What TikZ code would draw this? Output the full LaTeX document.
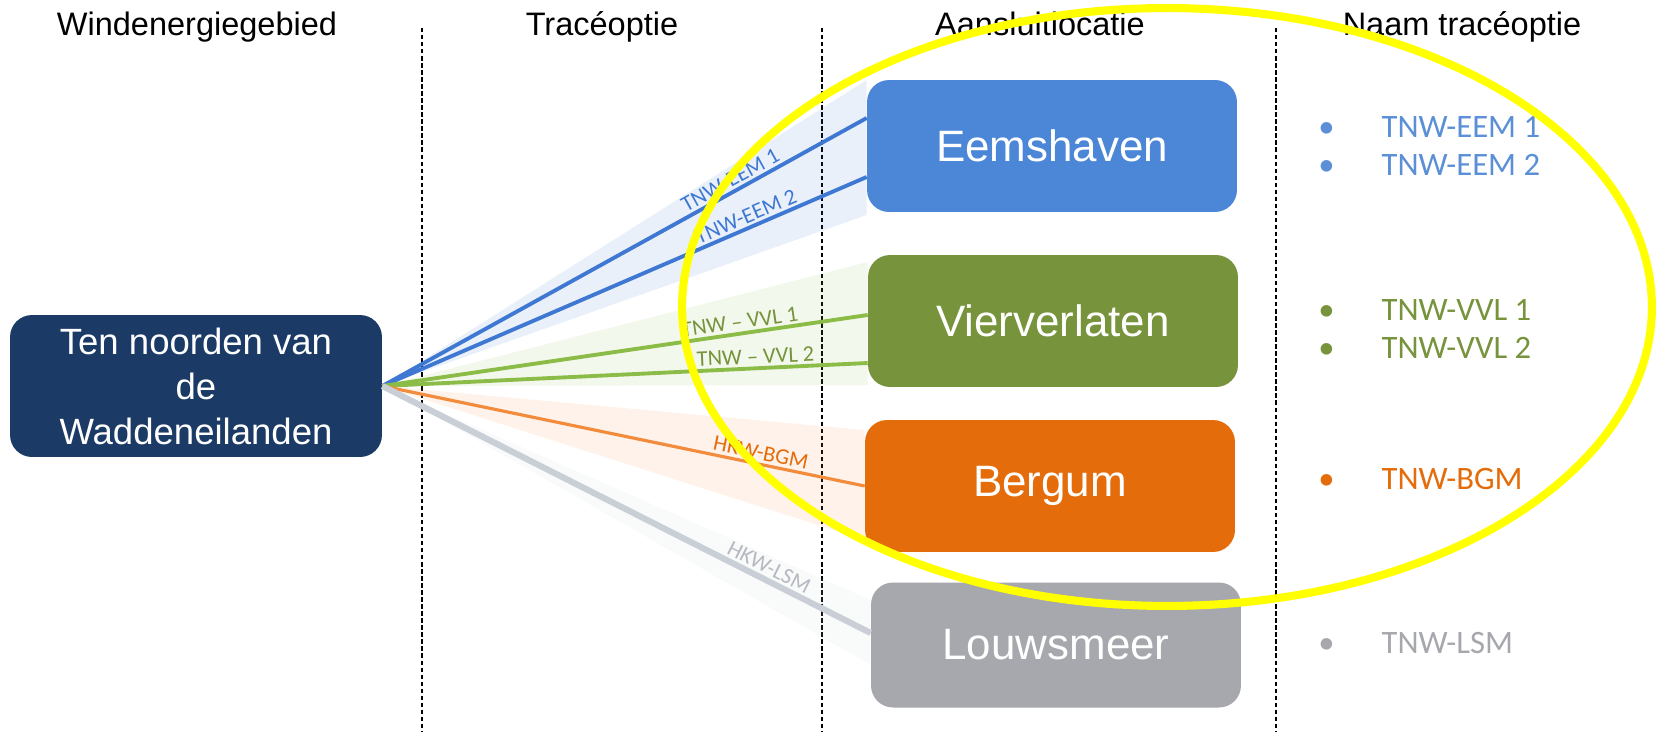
\documentclass[tikz,border=0pt]{standalone}
\usepackage{fontspec}
\setmainfont{Liberation Sans}
\newfontfamily\calibri{Carlito}

\definecolor{navy}{RGB}{27,58,102}
\definecolor{eemblue}{RGB}{75,135,214}
\definecolor{vvlgreen}{RGB}{119,147,60}
\definecolor{bgmorange}{RGB}{228,108,10}
\definecolor{lsmgray}{RGB}{166,168,173}
\definecolor{lineblue}{RGB}{62,120,210}
\definecolor{linegreen}{RGB}{140,188,72}
\definecolor{lineorange}{RGB}{242,140,60}
\definecolor{linegray}{RGB}{202,206,214}
\definecolor{listblue}{RGB}{91,143,214}
\definecolor{marker}{RGB}{255,255,0}

\begin{document}
\begin{tikzpicture}[x=0.02cm,y=-0.02cm]
      \tikzset{
        place/.style={rectangle,rounded corners=4.4mm,inner sep=0pt,minimum width=7.4cm,minimum height=2.64cm,text=white,font=\fontsize{25}{30}\selectfont},
        head/.style={anchor=base,font=\fontsize{18.5}{22}\selectfont},
        sep/.style={dash pattern=on 2.5pt off 1.5pt,line width=.6pt},
        route/.style={line width=2.2pt},
        tag/.style={sloped,above,inner sep=1.5pt,font=\calibri\fontsize{12.7}{14}\selectfont},
        item/.style={anchor=west,inner sep=0pt,font=\calibri\fontsize{18.6}{22}\selectfont},
        haze/.style={draw=none,fill opacity=.11}
      }
      \useasboundingbox (0,0) rectangle (1656,731);

      % kolomkoppen
      \node[head] (hwind) at (197,35) {Windenergiegebied};
      \node[head] (htrace) at (602,35) {Tracéoptie};
      \node[head] (haans) at (1040,35) {Aansluitlocatie};
      \node[head] (hnaam) at (1462,35) {Naam tracéoptie};

      \foreach \x in {422,822,1276}
        \draw[sep] (\x,28) -- (\x,731);

      \node[place,fill=navy,align=center,minimum width=7.44cm,minimum height=2.84cm,
            font=\fontsize{20.8}{25.6}\selectfont] (wad) at (196,386) {Ten noorden van\\de\\Waddeneilanden};

      \node[place,fill=eemblue] (eem) at (1052,146) {Eemshaven};
      \node[place,fill=vvlgreen] (vvl) at (1053,321) {Vierverlaten};
      \node[place,fill=bgmorange] (bgm) at (1050,486) {Bergum};
      \node[place,fill=lsmgray,minimum height=2.5cm] (lsm) at (1056,645) {Louwsmeer};

      % waas rond de tracés
      \fill[haze,lineblue] (wad.east) -- ([yshift=13.2mm]eem.west) -- ([yshift=-13.8mm]eem.west) -- cycle;
      \fill[haze,linegreen] (wad.east) -- ([yshift=11.8mm]vvl.west) -- ([yshift=-12.8mm]vvl.west) -- cycle;
      \fill[haze,lineorange] (wad.east) -- ([yshift=11.2mm]bgm.west) -- ([yshift=-10.8mm]bgm.west) -- cycle;
      \fill[haze,linegray] (wad.east) -- ([yshift=9mm]lsm.west) -- ([yshift=-4mm]lsm.west) -- cycle;

      \draw[route] (wad.east) edge[lineblue] node[tag,pos=.73,text=lineblue] {TNW-EEM 1} ([yshift=5.6mm]eem.west)
            (wad.east) edge[lineblue] node[tag,pos=.76,text=lineblue] {TNW-EEM 2} ([yshift=-6.2mm]eem.west)
            (wad.east) edge[linegreen] node[tag,pos=.74,text=vvlgreen] {TNW – VVL 1} ([yshift=1.2mm]vvl.west)
            (wad.east) edge[linegreen] node[tag,pos=.77,text=vvlgreen] {TNW – VVL 2} ([yshift=-8.4mm]vvl.west)
            (wad.east) edge[lineorange,line width=1.8pt] node[tag,pos=.78,text=bgmorange] {HKW-BGM} (bgm.west)
            (wad.east) edge[linegray,line width=3.5pt] node[tag,pos=.78,text=linegray!90!black] {HKW-LSM} ([yshift=2.4mm]lsm.west);

      % namen van de tracéopties
      \node[item,text=listblue] (n1) at (1318,127) {•\hspace{9.4mm}TNW-EEM 1};
      \node[item,text=listblue] (n2) at (1318,165) {•\hspace{9.4mm}TNW-EEM 2};
      \node[item,text=vvlgreen] (n3) at (1318,310) {•\hspace{9.4mm}TNW-VVL 1};
      \node[item,text=vvlgreen] (n4) at (1318,348) {•\hspace{9.4mm}TNW-VVL 2};
      \node[item,text=bgmorange] (n5) at (1318,479) {•\hspace{9.4mm}TNW-BGM};
      \node[item,text=lsmgray] (n6) at (1318,643) {•\hspace{9.4mm}TNW-LSM};

      \draw[marker,line width=4.6pt] (1167,307) ellipse [x radius=9.7cm,y radius=5.98cm];
\end{tikzpicture}
\end{document}
